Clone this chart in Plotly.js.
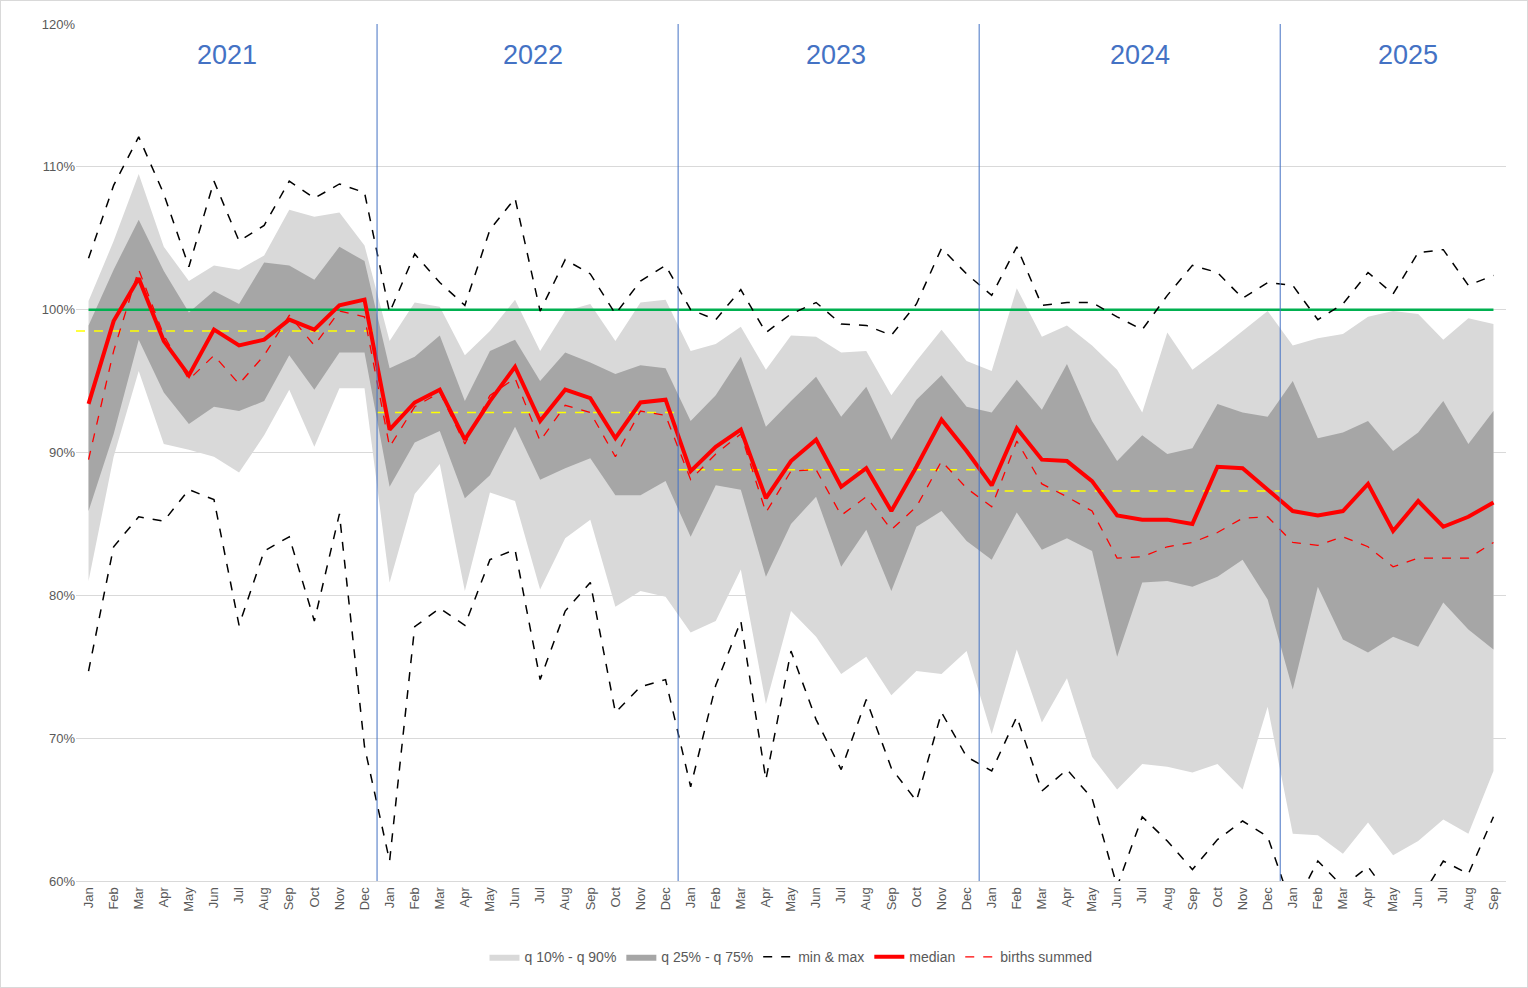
<!DOCTYPE html>
<html><head><meta charset="utf-8">
<script src="https://cdn.plot.ly/plotly-3.0.1.min.js"></script>
<style>body{margin:0;background:#fff}#c{width:1526px;height:986px;border:1px solid #d9d9d9}</style>
</head><body><div id="c"></div>
<script>
const monthNames=["Jan","Feb","Mar","Apr","May","Jun","Jul","Aug","Sep","Oct","Nov","Dec"];
const years=["2021","2022","2023","2024","2025"];
const median=[93.4,99.2,102.2,97.8,95.4,98.6,97.5,97.9,99.3,98.6,100.3,100.7,
91.6,93.5,94.4,90.9,93.6,96.0,92.2,94.4,93.8,91.0,93.5,93.7,
88.7,90.4,91.6,86.8,89.4,90.9,87.6,88.9,85.9,89.0,92.3,90.1,
87.7,91.7,89.5,89.4,88.0,85.6,85.3,85.3,85.0,89.0,88.9,87.4,
85.9,85.6,85.9,87.8,84.5,86.6,84.8,85.5,86.5];
const births=[89.5,97.1,102.8,98.2,95.1,96.8,94.8,96.8,99.6,97.5,99.9,99.5,
90.4,93.2,94.2,90.6,94.0,95.2,90.8,93.3,92.8,89.7,92.9,92.6,
88.1,89.9,91.3,85.8,88.7,88.8,85.6,86.9,84.6,86.2,89.4,87.5,
86.2,90.8,87.8,86.9,85.9,82.6,82.7,83.4,83.7,84.4,85.4,85.5,
83.7,83.5,84.1,83.4,82.0,82.6,82.6,82.6,83.7];
const maxV=[103.6,108.7,112.1,108.1,103.0,109.0,104.8,105.9,109.0,107.8,108.8,108.2,
99.8,103.9,101.9,100.3,105.6,107.8,99.9,103.5,102.5,99.7,102.0,103.1,
100.0,99.3,101.4,98.4,99.7,100.5,99.0,98.9,98.2,100.4,104.3,102.5,
101.0,104.4,100.3,100.5,100.5,99.5,98.6,101.0,103.1,102.6,100.8,101.9,
101.7,99.3,100.4,102.6,101.1,104.0,104.2,101.7,102.4];
const minV=[74.7,83.4,85.5,85.2,87.4,86.7,77.9,83.1,84.1,78.2,85.7,69.4,
61.4,77.8,79.1,77.9,82.5,83.2,74.1,78.9,80.9,71.8,73.6,74.1,
66.6,73.7,78.2,67.1,76.1,71.3,67.8,72.7,67.9,65.6,71.8,68.7,
67.7,71.5,66.3,67.8,65.8,59.6,64.5,62.8,60.8,62.9,64.2,63.1,
58.0,61.4,59.6,61.0,58.6,58.5,61.4,60.5,64.5];
const q90=[100.6,104.8,109.5,104.4,102.0,103.1,102.8,103.8,107.0,106.5,106.8,104.5,
97.8,100.5,100.2,96.8,98.5,100.7,97.1,99.9,100.4,97.8,100.5,100.7,
97.1,97.6,98.8,95.8,98.2,98.1,97.0,97.1,94.0,96.4,98.6,96.4,
95.7,101.5,98.1,98.9,97.5,95.8,92.8,98.4,95.8,97.1,98.5,99.9,
97.5,98.0,98.3,99.5,99.9,99.7,97.9,99.4,99.0];
const q10=[81.0,89.7,95.7,90.6,90.2,89.7,88.6,91.2,94.4,90.4,94.5,94.5,
80.9,87.1,89.2,80.3,87.2,86.6,80.4,84.0,85.3,79.2,80.3,79.9,
77.4,78.2,81.8,72.4,78.9,77.1,74.5,75.7,73.0,74.7,74.5,76.1,
70.3,76.2,71.1,74.2,68.7,66.4,68.2,68.0,67.6,68.2,66.4,72.2,
63.3,63.2,61.9,64.1,61.8,62.8,64.3,63.3,67.7];
const q75=[98.9,102.8,106.3,102.7,99.8,101.3,100.4,103.3,103.1,102.1,104.4,103.4,
95.9,96.7,98.2,93.6,97.1,97.9,95.0,97.0,96.3,95.5,96.1,95.9,
92.2,94.0,96.7,91.8,93.6,95.3,92.5,94.6,90.9,93.7,95.4,93.2,
92.8,95.1,93.0,96.2,92.2,89.4,91.2,89.9,90.3,93.4,92.8,92.5,
95.0,91.0,91.4,92.2,90.1,91.4,93.6,90.6,92.9];
const q25=[85.9,91.3,97.9,94.2,92.0,93.2,92.9,93.6,96.8,94.4,97.0,97.0,
87.6,90.7,91.5,86.8,88.4,91.8,88.1,88.9,89.6,87.0,87.0,88.0,
84.1,87.7,87.4,81.3,85.0,86.9,82.0,84.6,80.3,84.8,85.9,83.8,
82.5,85.8,83.2,84.0,83.1,75.7,80.9,81.0,80.6,81.3,82.5,79.7,
73.4,80.6,76.9,76.0,77.1,76.4,79.5,77.6,76.2];
const yearAvg=[98.5,92.8,88.8,87.3];

const n=median.length;
const x=[...Array(n).keys()];
const labels=x.map(i=>monthNames[i%12]);
const traces=[
 {x,y:q10,mode:'lines',line:{width:0},showlegend:false,hoverinfo:'skip'},
 {x,y:q90,mode:'lines',line:{width:0},fill:'tonexty',fillcolor:'#d9d9d9',name:'q 10% - q 90%'},
 {x,y:q25,mode:'lines',line:{width:0},showlegend:false,hoverinfo:'skip'},
 {x,y:q75,mode:'lines',line:{width:0},fill:'tonexty',fillcolor:'#a6a6a6',name:'q 25% - q 75%'},
 {x,y:x.map(()=>100),mode:'lines',line:{color:'#00b050',width:2.5},showlegend:false},
];
yearAvg.forEach((v,k)=>{
 const x0=k===3?36-0.2:12*k-0.5;
 traces.push({x:[x0,12*k+11.5],y:[v,v],mode:'lines',line:{color:'#ffff00',width:1.5,dash:'dash'},showlegend:false});
});
traces.push(
 {x,y:maxV,mode:'lines',line:{color:'#000',width:1.5,dash:'dash'},name:'min & max',legendgroup:'mm'},
 {x,y:minV,mode:'lines',line:{color:'#000',width:1.5,dash:'dash'},showlegend:false,legendgroup:'mm'},
 {x,y:median,mode:'lines',line:{color:'#ff0000',width:4},name:'median'},
 {x,y:births,mode:'lines',line:{color:'#ff0000',width:1.3,dash:'dash'},name:'births summed'}
);
const yearX=[5.5,17.7,29.8,41.9,52.6];
const layout={
 width:1526,height:986,margin:{l:75,r:21,t:23,b:106},
 paper_bgcolor:'#fff',plot_bgcolor:'#fff',
 font:{family:'Liberation Sans, Arial',color:'#595959',size:13},
 showlegend:true,
 legend:{orientation:'h',x:0.5,xanchor:'center',y:-0.089,yanchor:'middle',font:{size:14,color:'#595959'},traceorder:'normal'},
 xaxis:{range:[-0.5,n-0.5],tickvals:x,ticktext:labels,tickangle:-90,showgrid:false,zeroline:false,showline:true,linecolor:'#d9d9d9',ticks:'',fixedrange:true},
 yaxis:{range:[60,120],dtick:10,ticksuffix:'%',showgrid:true,gridcolor:'#d9d9d9',zeroline:false,showline:false,ticks:''},
 shapes:[11.5,23.5,35.5,47.5].map(v=>({type:'line',xref:'x',yref:'paper',x0:v,x1:v,y0:0,y1:1,line:{color:'#4472c4',width:1}})),
 annotations:years.map((t,i)=>({x:yearX[i],y:117.8,xref:'x',yref:'y',text:t,showarrow:false,font:{size:27,color:'#4472c4'}}))
};
Plotly.newPlot('c',traces,layout,{displayModeBar:false});
</script></body></html>
